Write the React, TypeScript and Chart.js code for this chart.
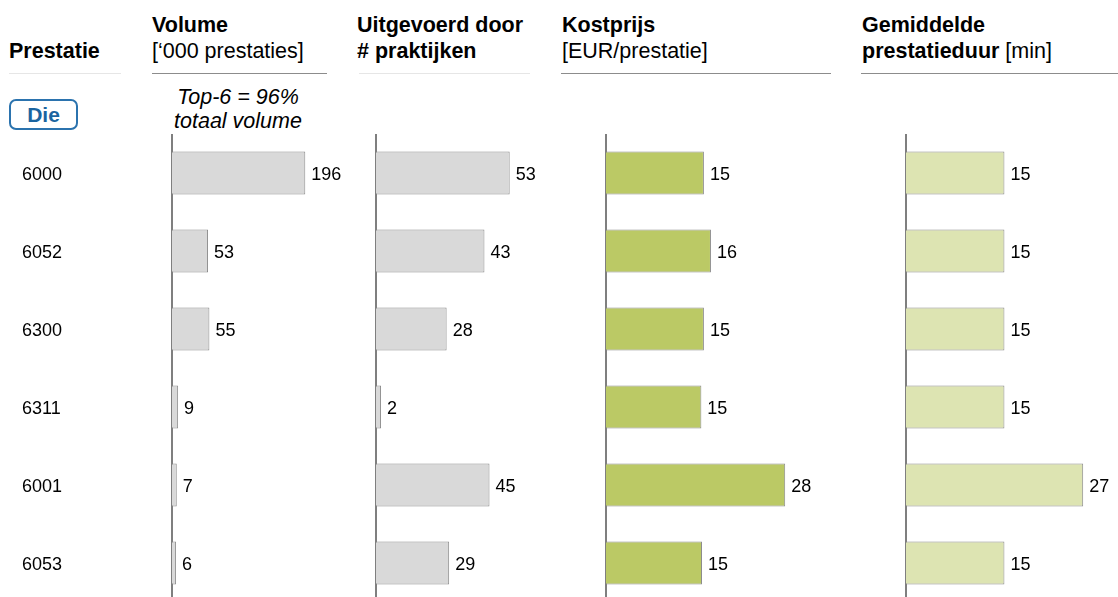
import React, { useEffect, useRef } from "react";
import { Chart, registerables } from "chart.js";

Chart.register(...registerables);

const FONT = '"Liberation Sans", Arial, Helvetica, sans-serif';

// ---- data ----
const categories = ["6000", "6052", "6300", "6311", "6001", "6053"];
const volume = [196, 53, 55, 9, 7, 6];
const practices = [53, 43, 28, 2, 45, 29];
const costPrice = [15.3, 16.4, 15.3, 14.9, 28.0, 15.0];
const duration = [15, 15, 15, 15, 27, 15];

const valueLabelPlugin = {
  id: "valueLabels",
  afterDatasetsDraw(chart: any) {
    const ctx = chart.ctx;
    const meta = chart.getDatasetMeta(0);
    const ds = chart.data.datasets[0];
    ctx.save();
    ctx.font = `18px ${FONT}`;
    ctx.fillStyle = "#000";
    ctx.textAlign = "left";
    ctx.textBaseline = "middle";
    meta.data.forEach((bar: any, i: number) => {
      const v = ds.data[i] as number;
      ctx.fillText(String(Math.round(v)), bar.x + 6, bar.y + 2);
    });
    ctx.restore();
  },
};

type PanelProps = {
  data: number[];
  color: string;
  max: number;
  left: number;
  width: number;
  padLeft: number;
  axisW: number;
  padRight: number;
  showLabels?: boolean;
};

function BarPanel(p: PanelProps) {
  const ref = useRef<HTMLCanvasElement | null>(null);
  useEffect(() => {
    if (!ref.current) return;
    const chart = new Chart(ref.current, {
      type: "bar",
      data: {
        labels: categories,
        datasets: [
          {
            data: p.data,
            backgroundColor: p.color,
            borderColor: "#8c8c8c",
            borderWidth: 1,
            borderSkipped: "start",
            categoryPercentage: 1,
            barPercentage: 0.55,
          },
        ],
      },
      options: {
        indexAxis: "y",
        responsive: false,
        animation: false,
        events: [],
        layout: { padding: { left: p.padLeft, right: p.padRight, top: 0, bottom: 0 } },
        plugins: { legend: { display: false }, tooltip: { enabled: false } },
        scales: {
          x: { display: false, min: 0, max: p.max },
          y: {
            display: true,
            grid: { display: false, drawTicks: false, lineWidth: 0 },
            border: { display: true, color: "#7f7f7f", width: 2 },
            ticks: {
              display: !!p.showLabels,
              crossAlign: "far",
              padding: 0,
              labelOffset: 2,
              color: "#000",
              font: { size: 18, family: FONT },
            },
            afterFit: (s: any) => {
              s.width = p.axisW;
              s.paddingTop = 0;
              s.paddingBottom = 0;
            },
          },
        },
      } as any,
      plugins: [valueLabelPlugin],
    });
    return () => chart.destroy();
  }, []);
  return (
    <canvas
      ref={ref}
      width={p.width}
      height={468}
      style={{ position: "absolute", left: p.left, top: 134, width: p.width, height: 468, display: "block" }}
    />
  );
}

const hdr: React.CSSProperties = {
  position: "absolute",
  fontSize: 21.5,
  lineHeight: "26px",
  color: "#000",
  whiteSpace: "nowrap",
};

function Rule({ x1, x2, color }: { x1: number; x2: number; color: string }) {
  return <div style={{ position: "absolute", left: x1, top: 73, width: x2 - x1, height: 1, background: color }} />;
}

export default function App() {
  return (
    <div
      style={{
        position: "fixed",
        left: 0,
        top: 0,
        width: 1118,
        height: 597,
        overflow: "hidden",
        background: "#fff",
        fontFamily: FONT,
      }}
    >
      {/* headers */}
      <div style={{ ...hdr, left: 9, top: 38, fontWeight: "bold" }}>Prestatie</div>
      <div style={{ ...hdr, left: 152, top: 12 }}>
        <b>Volume</b>
        <br />
        [‘000 prestaties]
      </div>
      <div style={{ ...hdr, left: 357, top: 12, fontWeight: "bold" }}>
        Uitgevoerd door
        <br /># praktijken
      </div>
      <div style={{ ...hdr, left: 562, top: 12 }}>
        <b>Kostprijs</b>
        <br />
        [EUR/prestatie]
      </div>
      <div style={{ ...hdr, left: 862, top: 12 }}>
        <b>Gemiddelde</b>
        <br />
        <b>prestatieduur</b> [min]
      </div>

      <Rule x1={9} x2={121} color="#e6e6e6" />
      <Rule x1={152} x2={327} color="#8c8c8c" />
      <Rule x1={359} x2={530} color="#e6e6e6" />
      <Rule x1={561} x2={831} color="#8c8c8c" />
      <Rule x1={861} x2={1118} color="#8c8c8c" />

      {/* Die badge */}
      <div
        style={{
          position: "absolute",
          left: 9,
          top: 99,
          width: 69,
          height: 31,
          boxSizing: "border-box",
          border: "2px solid #2b73ae",
          borderRadius: 7,
          color: "#1a64a0",
          fontWeight: "bold",
          fontSize: 21,
          lineHeight: "27px",
          textAlign: "center",
        }}
      >
        Die
      </div>

      {/* annotation */}
      <div
        style={{
          position: "absolute",
          left: 138,
          top: 85,
          width: 200,
          textAlign: "center",
          fontStyle: "italic",
          fontSize: 21.5,
          lineHeight: "24px",
          color: "#000",
        }}
      >
        Top-6 = 96%
        <br />
        totaal volume
      </div>

      <BarPanel data={volume} color="#d9d9d9" max={250} left={0} width={382} padLeft={22} axisW={150} padRight={40} showLabels />
      <BarPanel data={practices} color="#d9d9d9" max={67} left={366} width={219} padLeft={0} axisW={10} padRight={40} />
      <BarPanel data={costPrice} color="#bbc965" max={35} left={596} width={274} padLeft={0} axisW={10} padRight={40} />
      <BarPanel data={duration} color="#dde4b2" max={32} left={896} width={232} padLeft={0} axisW={10} padRight={12} />
    </div>
  );
}
